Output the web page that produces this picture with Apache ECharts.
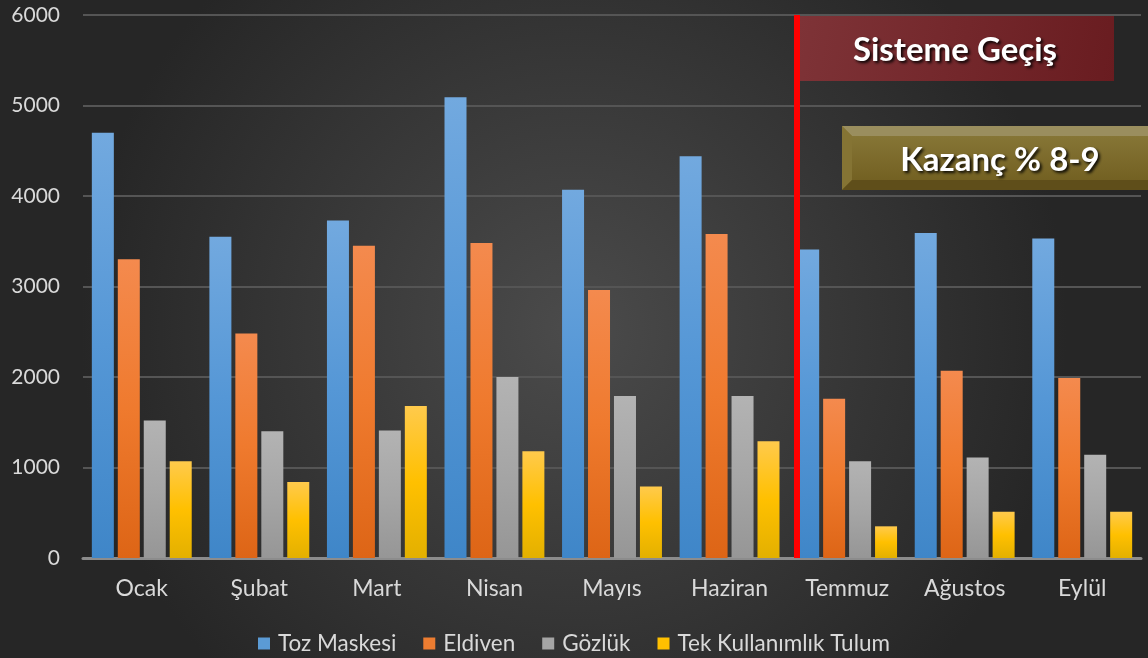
<!DOCTYPE html>
<html>
<head>
<meta charset="utf-8">
<script src="https://cdn.jsdelivr.net/npm/echarts@6/dist/echarts.min.js"></script>
<style>
  html, body { margin: 0; padding: 0; background: #333; }
  #chart { width: 1148px; height: 658px; }
</style>
</head>
<body>
<div id="chart"></div>
<script>
var months = ["Ocak", "Şubat", "Mart", "Nisan", "Mayıs", "Haziran", "Temmuz", "Ağustos", "Eylül"];
var tozMaskesi = [4700, 3550, 3730, 5090, 4070, 4440, 3410, 3590, 3530];
var eldiven = [3300, 2480, 3450, 3480, 2960, 3580, 1760, 2070, 1990];
var gozluk = [1520, 1400, 1410, 2000, 1790, 1790, 1070, 1110, 1140];
var tulum = [1070, 840, 1680, 1180, 790, 1290, 350, 510, 510];
var switchAt = 6.065; // "Sisteme Geçiş" line, just before Temmuz

var font = "Lato";

function grad(top, mid, bottom) {
  return new echarts.graphic.LinearGradient(0, 0, 0, 1, [
    { offset: 0, color: top },
    { offset: 0.5, color: mid },
    { offset: 1, color: bottom }
  ]);
}

function barSeries(name, data, color) {
  return {
    name: name,
    type: "bar",
    data: data,
    barWidth: 22,
    barGap: "18%",
    itemStyle: { color: color },
    emphasis: { disabled: true }
  };
}

var chart = echarts.init(document.getElementById("chart"));

chart.setOption({
  backgroundColor: new echarts.graphic.RadialGradient(0.5, 0.5, 0.75, [
    { offset: 0, color: "#4b4b4b" },
    { offset: 1, color: "#262626" }
  ]),
  animation: false,
  grid: { left: 83, right: 7, top: 15, bottom: 100 },
  legend: {
    bottom: -2,
    left: "center",
    itemWidth: 12,
    itemHeight: 12,
    itemGap: 27,
    icon: "rect",
    textStyle: { color: "#d9d9d9", fontSize: 22.5, fontFamily: font, padding: [0, 0, 0, 3] },
    data: [
      { name: "Toz Maskesi", itemStyle: { color: "#5b9bd5" } },
      { name: "Eldiven", itemStyle: { color: "#ed7d31" } },
      { name: "Gözlük", itemStyle: { color: "#a5a5a5" } },
      { name: "Tek Kullanımlık Tulum", itemStyle: { color: "#ffc000" } }
    ]
  },
  xAxis: [{
    type: "category",
    data: months,
    axisLine: { lineStyle: { color: "#8c8c8c", width: 3 } },
    axisTick: { show: false },
    axisLabel: { color: "#d9d9d9", fontSize: 23, fontFamily: font, margin: 19 }
  }, {
    type: "value",
    min: 0,
    max: months.length,
    show: false
  }],
  yAxis: {
    type: "value",
    min: 0,
    max: 6000,
    interval: 1000,
    axisLine: { show: false },
    axisTick: { show: false },
    axisLabel: {
      color: "#d9d9d9", fontSize: 21, fontFamily: font, margin: 23,
      formatter: function (v) { return String(v); }
    },
    splitLine: { lineStyle: { color: "#555555", width: 2 } }
  },
  series: [
    barSeries("Toz Maskesi", tozMaskesi, grad("#72a9df", "#5597d6", "#3f86c8")),
    barSeries("Eldiven", eldiven, grad("#f48a4e", "#ef7a2e", "#dd6516")),
    barSeries("Gözlük", gozluk, grad("#b3b3b3", "#a6a6a6", "#969696")),
    barSeries("Tek Kullanımlık Tulum", tulum, grad("#ffca4c", "#ffc000", "#e3b000")),
    {
      name: "switch",
      type: "line",
      xAxisIndex: 1,
      data: [],
      silent: true,
      markLine: {
        symbol: "none",
        silent: true,
        label: { show: false },
        lineStyle: { color: "#ff0000", width: 6, type: "solid" },
        data: [{ xAxis: switchAt }]
      }
    }
  ],
  graphic: [
    {
      type: "rect",
      shape: { x: 800, y: 16, width: 314, height: 65 },
      style: {
        fill: new echarts.graphic.LinearGradient(0, 0, 1, 1, [
          { offset: 0, color: "#7e3337" },
          { offset: 1, color: "#691c20" }
        ])
      },
      z: 10
    },
    {
      type: "text",
      x: 955, y: 50,
      style: {
        text: "Sisteme Geçiş",
        fill: "#ffffff",
        font: "bold 33px " + font,
        align: "center",
        verticalAlign: "middle",
        textShadowColor: "rgba(0,0,0,0.9)",
        textShadowBlur: 3,
        textShadowOffsetX: 2,
        textShadowOffsetY: 2
      },
      z: 11
    },
    {
      type: "rect",
      shape: { x: 842, y: 126, width: 320, height: 64 },
      style: {
        fill: new echarts.graphic.LinearGradient(0, 0, 0, 1, [
          { offset: 0, color: "#8a7a3a" },
          { offset: 1, color: "#6f5c1e" }
        ])
      },
      z: 10
    },
    {
      type: "polygon",
      shape: { points: [[842, 126], [1162, 126], [1152, 136], [852, 136]] },
      style: { fill: "#9a8e5e" },
      z: 10
    },
    {
      type: "polygon",
      shape: { points: [[842, 126], [852, 136], [852, 180], [842, 190]] },
      style: { fill: "#857434" },
      z: 10
    },
    {
      type: "polygon",
      shape: { points: [[842, 190], [852, 180], [1152, 180], [1162, 190]] },
      style: { fill: "#5f4e1a" },
      z: 10
    },
    {
      type: "text",
      x: 1000, y: 160,
      style: {
        text: "Kazanç % 8-9",
        fill: "#ffffff",
        font: "bold 33px " + font,
        align: "center",
        verticalAlign: "middle",
        textShadowColor: "rgba(0,0,0,0.9)",
        textShadowBlur: 3,
        textShadowOffsetX: 2,
        textShadowOffsetY: 2
      },
      z: 11
    }
  ]
});
</script>
</body>
</html>
